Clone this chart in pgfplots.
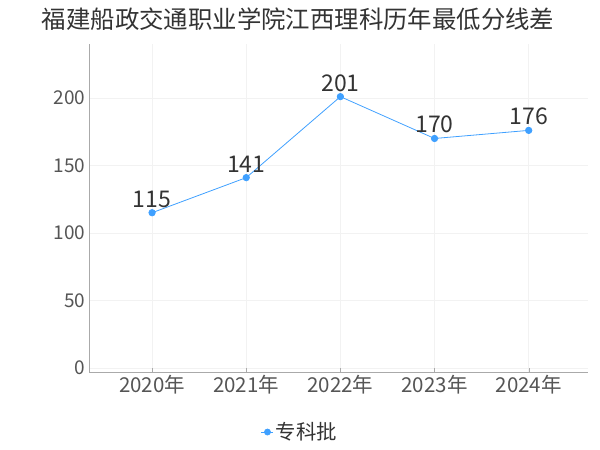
\documentclass[border=0pt]{standalone}
\usepackage{pgfplots}
\pgfplotsset{compat=1.18}
\usepackage{fontspec}
\setmainfont{Noto Sans CJK SC}
\definecolor{linec}{HTML}{3FA0FF}
\definecolor{txt}{HTML}{333333}
\definecolor{tick}{HTML}{555555}
\definecolor{axl}{HTML}{AAAAAA}
\definecolor{gridc}{HTML}{F2F2F2}
\begin{document}
\begin{tikzpicture}
\path[use as bounding box] (0,0) rectangle (600bp,450bp);
\node[text=txt,font=\fontsize{24.4bp}{28bp}\selectfont] at (298bp,431bp) {福建船政交通职业学院江西理科历年最低分线差};
\begin{axis}[
  at={(89bp,78bp)}, anchor=south west,
  scale only axis, width=499bp, height=328bp,
  xmin=-0.67, xmax=4.63, ymin=-3, ymax=240,
  xtick={0,1,2,3,4},
  xticklabels={2020年,2021年,2022年,2023年,2024年},
  ytick={0,50,100,150,200},
  /pgf/number format/assume math mode=true,
  xticklabel style={text=tick,font=\fontsize{20.5bp}{24bp}\selectfont},
  yticklabel style={text=tick,font=\fontsize{19bp}{23bp}\selectfont},
  grid=major, major grid style={gridc,line width=0.6pt},
  axis x line*=bottom, axis y line*=left,
  axis line style={axl,line width=0.8pt},
  x axis line style={-}, y axis line style={-},
  major tick length=4bp,
  xtick style={axl}, ytick style={draw=none},
  legend style={at={(0.423,-0.183)},anchor=center,draw=none,fill=none,
    font=\fontsize{20.4bp}{24bp}\selectfont,text=txt},
  legend image code/.code={\draw[linec,line width=0.8pt] (0bp,0bp) -- (12bp,0bp); \fill[linec] (6bp,0bp) circle (3bp);},
  nodes near coords,
  every node near coord/.append style={text=txt,font=\fontsize{23bp}{27bp}\selectfont,yshift=1.5bp},
]
\addplot[linec,line width=0.8pt,mark=*,mark size=3.2bp,mark options={fill=linec,draw=linec}]
  coordinates {(0,115) (1,141) (2,201) (3,170) (4,176)};
\addlegendentry{专科批}
\end{axis}
\end{tikzpicture}
\end{document}
